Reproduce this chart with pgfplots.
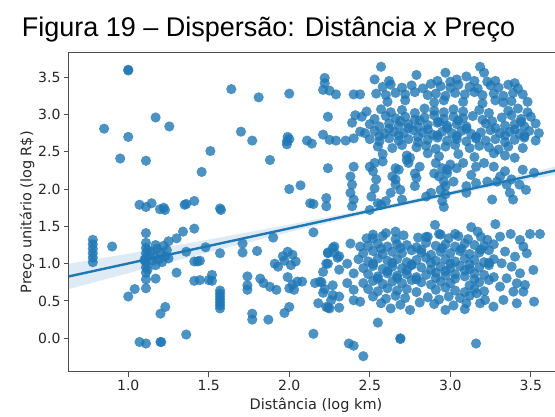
\documentclass[border=0pt]{standalone}
\usepackage{pgfplots}
\pgfplotsset{compat=1.18}
\usepackage{fontspec}
\setmainfont{DejaVu Sans}
\newfontfamily\titlefont{Liberation Sans}
\definecolor{sbblue}{HTML}{1F77B4}

\begin{document}
\begin{tikzpicture}
\begin{axis}[
    at={(69pt,45.3pt)}, anchor=south west,
    scale only axis, width=494pt, height=318.8pt,
    xmin=0.632, xmax=3.70, ymin=-0.448, ymax=3.826,
    axis line style={black!70, line width=1pt},
    xtick={1,1.5,2,2.5,3,3.5}, ytick={0,0.5,1,1.5,2,2.5,3,3.5},
    xtick pos=lower, ytick pos=left,
    tick align=outside, major tick length=5pt,
    tick style={black!70, line width=1pt},
    ticklabel style={font=\fontsize{14}{14}\selectfont, text=black!85},
    /pgf/number format/.cd, fixed, fixed zerofill, precision=1, assume math mode=true,
    /pgfplots/.cd,
    xlabel={Distância (log km)}, ylabel={Preço unitário (log R\$)},
    label style={font=\fontsize{14.5}{14.5}\selectfont, text=black!85},
    ylabel style={yshift=-3pt},
    clip=true,
]
% pontos
\addplot[only marks, mark=*, mark size=5.1pt, color=sbblue,
    mark options={fill=sbblue, draw opacity=0, line width=0pt, fill opacity=0.8}] coordinates {
% esquerda, esparso
(0.78,1.02)(0.78,1.08)(0.78,1.14)(0.78,1.20)(0.78,1.26)(0.78,1.32)(0.90,1.23)
(0.85,2.81)(1.00,2.70)(0.95,2.41)(1.11,2.38)(1.17,2.96)(1.255,2.84)
(1.00,3.59)(1.00,3.60)(1.51,2.51)(1.456,2.23)(1.64,3.34)(1.81,3.23)(2.00,3.28)
(1.70,2.77)(1.77,2.65)(1.88,2.39)(1.985,2.64)(1.99,2.70)(1.985,2.60)(2.00,2.67)
(2.11,2.65)(2.14,2.61)(2.00,2.00)(2.07,2.05)(2.13,1.81)(2.15,1.80)
(1.07,1.79)(1.11,1.76)(1.145,1.81)(1.197,1.73)(1.228,1.72)(1.22,1.75)(1.35,1.79)
(1.36,1.80)(1.41,1.84)(1.576,1.72)(1.57,1.74)
(1.11,1.41)(1.11,1.28)(1.11,1.21)(1.11,1.14)(1.11,1.08)(1.11,1.01)(1.11,0.95)
(1.11,0.88)(1.11,0.79)(1.11,0.67)(1.12,1.18)(1.10,1.05)(1.12,0.92)
(1.00,0.56)(1.04,0.66)(1.17,0.80)(1.17,0.98)
(1.16,1.10)(1.18,1.20)(1.19,1.06)(1.20,1.15)(1.22,1.24)(1.23,1.10)(1.24,1.18)
(1.25,1.07)(1.17,1.25)(1.21,1.02)(1.14,1.16)(1.15,1.04)
(1.25,1.30)(1.30,1.34)(1.34,1.43)(1.41,1.47)(1.36,1.16)(1.41,1.03)(1.43,1.03)
(1.30,0.88)(1.41,0.77)(1.50,0.78)(1.23,0.42)(1.20,0.33)(1.36,0.05)
(1.07,-0.05)(1.11,-0.07)(1.20,-0.05)(1.205,-0.05)
(1.48,1.22)(1.57,1.14)(1.71,1.27)(1.71,1.15)(1.80,1.17)(1.90,1.35)(2.15,1.42)
(1.445,1.04)(1.445,0.78)(1.52,0.85)(1.52,0.77)
(1.57,0.64)(1.57,0.60)(1.57,0.56)(1.57,0.52)(1.57,0.48)(1.57,0.44)(1.57,0.40)
(1.74,0.83)(1.74,0.71)(1.74,0.65)(1.82,0.80)(1.84,0.74)(1.88,0.69)(1.92,0.65)(2.00,0.67)
(1.77,0.33)(1.77,0.25)(1.87,0.25)(1.97,0.34)(2.00,0.42)
(1.93,0.96)(1.96,1.10)(1.99,1.16)(2.02,1.12)(2.01,0.98)(2.04,1.03)(1.91,1.00)(1.97,1.04)
(1.99,0.82)(2.02,0.72)(2.05,0.76)(2.08,0.76)(2.03,0.65)
(2.16,0.74)(2.20,0.75)(2.22,0.66)(2.21,0.61)(2.18,0.47)(2.24,0.41)(2.26,0.51)
(2.15,0.06)(2.24,1.00)(2.27,1.21)(2.28,1.15)(2.30,1.08)(2.24,1.15)
% grupo superior, lado esquerdo e colunas
(2.22,3.49)(2.22,3.42)(2.21,3.33)(2.25,3.32)(2.29,3.27)(2.40,3.27)(2.44,3.27)
(2.24,2.97)(2.21,2.73)(2.25,2.66)(2.29,2.65)(2.35,2.65)(2.40,2.68)(2.44,2.77)(2.41,2.99)(2.39,2.89)
(2.24,2.28)(2.23,1.88)(2.23,1.77)
(2.40,2.30)(2.38,2.17)(2.39,2.06)(2.38,1.95)(2.40,1.86)(2.39,1.77)
(2.53,2.35)(2.52,2.24)(2.54,2.13)(2.53,2.01)(2.51,1.90)(2.55,1.81)(2.50,1.72)(2.57,1.79)(2.60,1.84)
(2.64,2.17)(2.68,2.26)(2.66,2.06)(2.69,1.99)(2.70,1.86)(2.66,2.13)(2.73,2.39)(2.75,2.42)
(2.79,2.15)(2.78,2.04)(2.63,1.95)(2.85,1.90)(2.88,1.95)
(2.91,2.35)(2.95,2.28)(2.93,2.17)(2.96,2.10)(2.94,1.99)(2.97,1.93)(2.95,1.84)(2.96,1.76)
(2.90,2.21)(2.98,2.26)(2.97,2.04)(3.02,2.10)(3.10,1.95)(3.10,2.04)(3.16,2.08)(3.23,2.10)(3.26,1.86)
(3.31,2.17)(3.34,2.24)(3.35,2.06)(3.37,1.95)(3.39,1.86)(3.29,2.10)(3.38,2.13)(3.43,2.06)
(3.47,1.99)(3.52,2.22)(3.45,2.26)
(3.13,2.19)(3.16,2.30)(3.21,2.35)(3.27,2.30)(2.98,2.21)(3.00,2.33)(3.04,2.28)(3.08,2.35)
(2.50,2.30)(2.58,2.37)(2.66,2.28)(2.74,2.35)(2.81,2.30)(2.78,2.21)
% grupo superior, faixa de cima
(2.53,3.47)(2.57,3.64)(2.79,3.53)(2.97,3.56)(3.04,3.47)(3.10,3.51)(3.185,3.64)(3.21,3.56)(3.23,3.44)(3.40,3.42)
(2.62,3.45)(2.92,3.45)(3.00,3.44)(3.15,3.45)(3.28,3.45)
(2.58,3.37)(2.63,3.40)(2.70,3.36)(2.76,3.39)(2.83,3.35)(2.88,3.41)(2.94,3.38)(3.00,3.36)
(3.05,3.40)(3.12,3.37)(3.17,3.35)(3.25,3.39)(3.30,3.36)(3.36,3.40)(3.42,3.35)
(2.54,3.28)(2.60,3.26)(2.66,3.29)(2.72,3.27)(2.78,3.30)(2.86,3.26)(2.91,3.28)(2.97,3.25)
(3.03,3.29)(3.09,3.27)(3.15,3.30)(3.20,3.26)(3.27,3.28)(3.33,3.25)(3.39,3.29)(3.45,3.27)
(2.61,3.17)(2.72,3.19)(2.90,3.16)(2.96,3.19)(3.08,3.17)(3.20,3.15)(3.28,3.19)(3.33,3.16)(3.38,3.18)(3.48,3.17)
% grupo superior, faixa densa
(2.48,3.04)(2.57,3.07)(2.63,3.03)(2.70,3.06)(2.78,3.02)(2.84,3.08)(2.90,3.05)(2.96,3.03)
(3.02,3.07)(3.08,3.04)(3.18,3.06)(3.24,3.02)(3.36,3.05)(3.42,3.08)(3.48,3.03)
(2.45,2.97)(2.53,2.94)(2.60,2.98)(2.66,2.95)(2.72,2.97)(2.78,2.93)(2.84,2.96)(2.90,2.99)(2.96,2.94)
(3.02,2.97)(3.08,2.95)(3.14,2.98)(3.20,2.93)(3.32,2.96)(3.38,2.99)(3.44,2.94)(3.50,2.97)
(2.69,2.91)(2.81,2.92)(2.93,2.90)(3.05,2.92)(3.26,2.91)(3.44,2.90)
(2.50,2.87)(2.56,2.84)(2.62,2.88)(2.68,2.85)(2.74,2.87)(2.80,2.83)(2.86,2.86)(2.92,2.89)
(2.98,2.85)(3.04,2.87)(3.10,2.84)(3.22,2.88)(3.34,2.85)(3.40,2.87)(3.46,2.84)(3.53,2.88)
(2.62,2.81)(2.74,2.82)(2.86,2.80)(2.98,2.82)(3.10,2.81)(3.28,2.82)(3.40,2.80)
(2.47,2.75)(2.53,2.78)(2.59,2.74)(2.65,2.77)(2.71,2.75)(2.77,2.79)(2.83,2.76)(2.89,2.73)(2.95,2.77)
(3.01,2.75)(3.07,2.78)(3.13,2.74)(3.19,2.76)(3.25,2.79)(3.31,2.75)(3.37,2.77)(3.43,2.74)(3.49,2.78)(3.55,2.75)
(2.56,2.71)(2.68,2.72)(2.80,2.70)(2.92,2.72)(3.04,2.71)(3.16,2.70)(3.34,2.72)(3.46,2.71)
(2.50,2.67)(2.56,2.64)(2.62,2.68)(2.68,2.65)(2.74,2.67)(2.80,2.63)(2.86,2.66)(2.92,2.69)(2.98,2.65)
(3.04,2.67)(3.10,2.64)(3.16,2.68)(3.22,2.65)(3.28,2.67)(3.34,2.63)(3.40,2.66)(3.46,2.69)(3.53,2.65)
(2.55,2.57)(2.64,2.55)(2.70,2.59)(2.79,2.56)(2.85,2.58)(2.91,2.54)(2.97,2.57)(3.03,2.59)
(3.12,2.55)(3.18,2.58)(3.24,2.56)(3.30,2.53)(3.36,2.57)(3.45,2.55)
(2.58,2.47)(2.73,2.45)(2.86,2.48)(2.93,2.44)(3.05,2.47)(3.15,2.43)(3.27,2.48)(3.34,2.45)(3.40,2.42)
% grupo inferior, bordas
(3.309,1.363)(3.375,1.398)(3.433,1.318)(3.495,1.398)(3.557,1.398)(3.454,1.229)(3.340,1.162)
(3.402,1.094)(3.475,1.139)(3.319,1.005)(3.381,0.960)(3.433,0.871)(3.516,0.916)(3.350,0.804)
(3.413,0.737)(3.464,0.715)(3.309,0.692)(3.392,0.625)(3.454,0.625)(3.330,0.514)(3.413,0.469)
(3.520,0.491)(3.268,0.424)(3.216,0.514)(3.164,0.603)(3.185,0.469)
(2.23,1.00)(2.19,0.76)(2.27,0.58)(2.25,0.40)(2.31,0.92)(2.28,1.23)(2.38,1.27)(2.24,1.14)
(2.31,1.10)(2.36,1.00)(2.40,0.87)(2.36,0.74)(2.31,0.56)(2.23,0.42)(2.31,0.41)(2.40,0.51)
(2.44,0.49)(2.40,0.65)(2.27,0.71)(2.21,0.89)(2.44,1.23)(2.48,1.34)(2.52,1.39)(2.60,1.41)
(2.66,1.43)(2.85,1.36)(2.94,1.39)(3.03,1.40)(3.13,1.49)(2.905,1.52)(3.28,1.53)(3.17,1.43)(3.23,1.32)
(2.75,0.38)(2.97,0.38)(3.09,0.39)(2.63,0.40)(2.55,0.21)
(2.37,-0.07)(2.40,-0.10)(2.46,-0.24)(2.69,-0.01)(2.69,0.00)(3.16,-0.07)
% grupo inferior, nucleo
(2.52,1.34)(2.58,1.37)(2.66,1.33)(2.71,1.38)(2.80,1.35)(2.86,1.36)(2.93,1.40)(2.99,1.34)(3.05,1.37)(3.11,1.33)(3.19,1.36)
(2.49,1.24)(2.55,1.27)(2.61,1.23)(2.67,1.26)(2.73,1.25)(2.79,1.22)(2.85,1.28)(2.91,1.24)
(2.97,1.26)(3.03,1.23)(3.09,1.27)(3.15,1.25)(3.21,1.24)(3.27,1.26)
(2.57,1.20)(2.69,1.21)(2.82,1.19)(2.95,1.21)(3.07,1.20)(3.19,1.19)
(2.46,1.14)(2.52,1.17)(2.58,1.13)(2.64,1.16)(2.70,1.14)(2.76,1.18)(2.82,1.15)(2.88,1.12)
(2.94,1.16)(3.00,1.14)(3.06,1.17)(3.12,1.13)(3.18,1.15)(3.24,1.18)
(2.43,1.06)(2.49,1.03)(2.55,1.07)(2.61,1.04)(2.67,1.06)(2.73,1.02)(2.79,1.05)(2.85,1.08)
(2.91,1.04)(2.97,1.06)(3.03,1.03)(3.09,1.07)(3.15,1.05)(3.21,1.02)(3.27,1.06)
(2.52,1.00)(2.64,1.01)(2.76,0.99)(2.88,1.01)(3.00,1.00)(3.12,0.99)(3.24,1.01)
(2.46,0.94)(2.52,0.97)(2.58,0.93)(2.64,0.96)(2.70,0.94)(2.76,0.98)(2.82,0.95)(2.88,0.92)
(2.94,0.96)(3.00,0.94)(3.06,0.97)(3.12,0.93)(3.18,0.95)(3.24,0.98)
(2.61,0.90)(2.73,0.91)(2.97,0.90)(3.09,0.91)
(2.49,0.86)(2.55,0.83)(2.61,0.87)(2.67,0.84)(2.73,0.86)(2.79,0.82)(2.85,0.85)(2.91,0.88)
(2.97,0.84)(3.03,0.86)(3.09,0.83)(3.15,0.87)(3.21,0.85)(3.27,0.82)
(2.55,0.80)(2.67,0.81)(2.79,0.79)(2.91,0.81)(3.03,0.80)(3.15,0.79)
(2.46,0.74)(2.52,0.77)(2.58,0.73)(2.64,0.76)(2.70,0.74)(2.76,0.78)(2.82,0.75)(2.88,0.72)
(2.94,0.76)(3.00,0.74)(3.12,0.71)(3.18,0.75)(3.24,0.78)
(2.49,0.66)(2.55,0.63)(2.61,0.67)(2.67,0.64)(2.73,0.66)(2.79,0.62)(2.91,0.65)(2.97,0.68)
(3.03,0.64)(3.09,0.62)(3.15,0.66)(3.21,0.63)
(2.52,0.56)(2.60,0.53)(2.66,0.57)(2.72,0.54)(2.86,0.55)(2.93,0.52)(2.99,0.56)(3.06,0.54)(3.12,0.57)
(2.57,0.47)(2.69,0.45)(2.81,0.48)(2.90,0.46)(3.02,0.44)(3.10,0.47)
};
% intervalo de confianca
\addplot[draw=none, fill=sbblue, fill opacity=0.15] coordinates {
(0.632,1.000)(1.0,1.133)(1.5,1.323)(2.0,1.523)(2.5,1.738)(3.0,1.973)(3.70,2.325)
(3.70,2.215)(3.0,1.913)(2.5,1.678)(2.0,1.423)(1.5,1.153)(1.0,0.873)(0.632,0.660)
} -- cycle;
% reta de regressao
\addplot[sbblue, line width=2.4pt] coordinates {(0.632,0.830)(3.70,2.272)};
\end{axis}
\node[anchor=base, font=\titlefont\fontsize{27}{27}\selectfont] at (268.5pt,380.3pt)
    {Figura 19 – Dispersão: Distância x Preço};
\pgfresetboundingbox
\useasboundingbox (0,0) rectangle (555pt,417pt);
\end{tikzpicture}
\end{document}
